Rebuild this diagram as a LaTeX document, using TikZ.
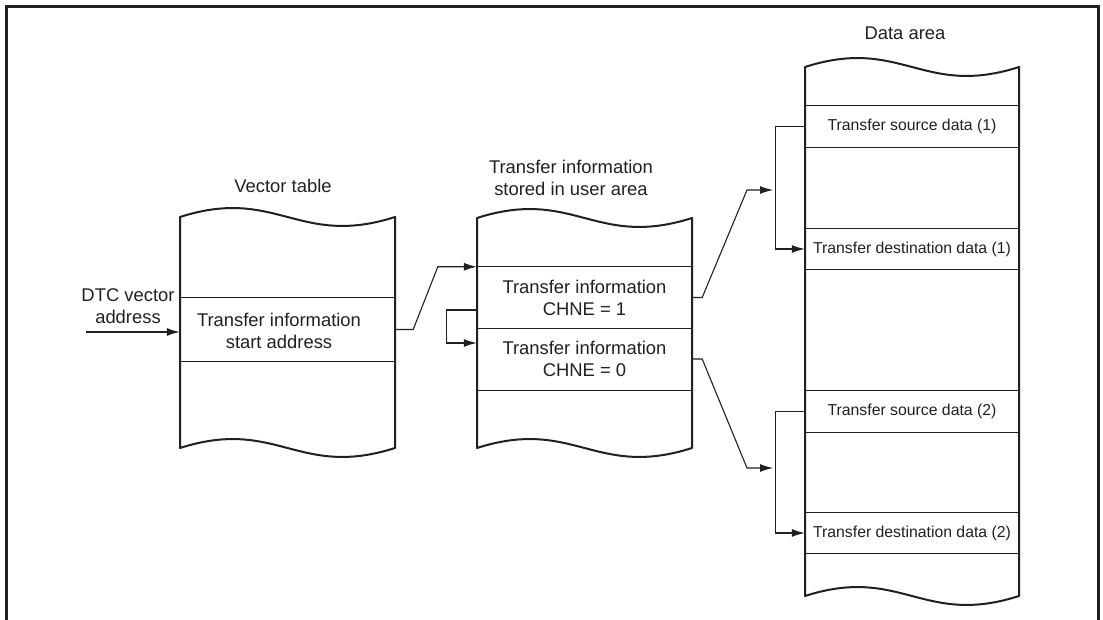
\documentclass[tikz,border=0pt]{standalone}
\usepackage{fontspec}
\setmainfont{Liberation Sans}
\usetikzlibrary{arrows.meta,calc}
\definecolor{ink}{HTML}{231F20}
\begin{document}
\begin{tikzpicture}[x=1pt,y=-1pt,
  big/.style={font=\fontsize{18.4}{22}\selectfont, text=ink, align=center, inner sep=0pt},
  small/.style={font=\fontsize{15.8}{19}\selectfont, text=ink, align=center, inner sep=0pt},
  outline/.style={draw=ink, line width=2pt, line join=round},
  rowline/.style={draw=ink, line width=1.1pt},
  conn/.style={draw=ink, line width=1.1pt},
  arr/.style={conn, -{Latex[length=13pt,width=8pt]}},
  cell/.style={draw=none, minimum width=#1, inner sep=0pt}
]
\useasboundingbox (0,0) rectangle (1103,620);
% frame
\draw[ink, line width=3pt] (6,640) -- (6,6.5) -- (1098,6.5) -- (1098,640);

% boxes with wavy top and bottom
\draw[outline] (180,217) .. controls (276.75,186) and (298.25,248) .. (395,217)
  -- (395,448) .. controls (298.25,479) and (276.75,417) .. (180,448) -- cycle;
\draw[outline] (477,218) .. controls (573.75,187) and (595.25,249) .. (692,218)
  -- (692,448) .. controls (595.25,479) and (573.75,417) .. (477,448) -- cycle;
\draw[outline] (805,67) .. controls (901.3,36) and (922.7,98) .. (1019,67)
  -- (1019,596) .. controls (922.7,627) and (901.3,565) .. (805,596) -- cycle;

% titles
\node[big] (tvt) at (283,186) {Vector table};
\node[big] (tm) at (571,177.5) {Transfer information\\stored in user area};
\node[big] (tda) at (905,33) {Data area};

% cells
\node[cell=215pt, minimum height=63pt] (vt) at (287.5,329.5) {};
\node[big] (vtt) at (279,331) {Transfer information\\start address};
\node[cell=215pt, minimum height=61pt, big] (m1) at (584.5,297.5) {Transfer information\\CHNE = 1};
\node[cell=215pt, minimum height=62pt, big] (m2) at (584.5,359) {Transfer information\\CHNE = 0};
\node[cell=214pt, minimum height=41pt, small] (s1) at (912,126.5) {Transfer source data (1)};
\node[cell=214pt, minimum height=40pt, small] (d1) at (912,249) {Transfer destination data (1)};
\node[cell=214pt, minimum height=41pt, small] (s2) at (912,411.5) {Transfer source data (2)};
\node[cell=214pt, minimum height=40pt, small] (d2) at (912,533) {Transfer destination data (2)};

% row lines
\foreach \c in {vt,m1,s1,d1,s2,d2} {
  \draw[rowline] (\c.north west) -- (\c.north east);
  \draw[rowline] (\c.south west) -- (\c.south east);
}
\draw[rowline] (m2.south west) -- (m2.south east);

% DTC vector address
\node[big] (dtc) at (128,306) {DTC vector\\address};
\coordinate (dtcin) at (86,332);
\draw[arr] (dtcin) -- (dtcin -| vt.west);

% vector table -> transfer information
\draw[arr] (vt.east) -- ++(18,0) -- ($(m1.north west)+(-39,0)$) -- (m1.north west);

% chain loop
\draw[arr] ($(m1.west)+(0,12.5)$) -- ++(-30,0) |- ($(m2.west)+(0,-16)$);

% to data area (1)
\coordinate (j1) at (747,190);
\coordinate (b1) at (773,190);
\draw[arr] (m1.east) -- ++(10,0) -- (j1) -- (b1);
\draw[arr] (s1.west) -- ++(-29,0) |- (d1.west);

% to data area (2)
\coordinate (j2) at (747,468);
\coordinate (b2) at (773,468);
\draw[arr] (m2.east) -- ++(10,0) -- (j2) -- (b2);
\draw[arr] (s2.west) -- ++(-29,0) |- (d2.west);
\end{tikzpicture}
\end{document}
